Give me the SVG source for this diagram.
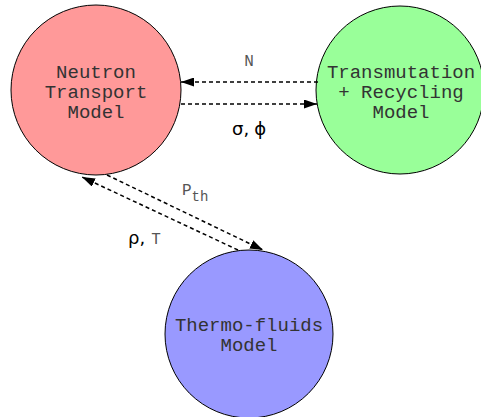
<svg xmlns="http://www.w3.org/2000/svg" width="481" height="417" viewBox="0 0 481 417">
<style>
.node{stroke:#000;stroke-width:1}
.lbl{font-family:"Liberation Mono","Courier New",monospace;font-size:19px;fill:#333;text-anchor:middle}
.edge{stroke:#000;stroke-width:1.5;stroke-dasharray:4,3;fill:none}
.elbl{font-family:"Liberation Mono","Courier New",monospace;font-size:16px;fill:#555}
.sym{font-family:"DejaVu Sans",sans-serif;font-size:18px;fill:#000}
</style>
<defs>
<marker id="ah" viewBox="0 0 13 9" refX="13" refY="4.5" markerWidth="13" markerHeight="9" markerUnits="userSpaceOnUse" orient="auto">
<path d="M0,0 L13,4.5 L0,9 Z" fill="#000"/>
</marker>
</defs>
<g id="neutron">
<circle class="node" cx="96" cy="90" r="85" fill="#FF9999"/>
<text class="lbl" x="96" y="78">Neutron</text>
<text class="lbl" x="96" y="98">Transport</text>
<text class="lbl" x="96" y="118">Model</text>
</g>
<g id="transmutation">
<circle class="node" cx="400" cy="90" r="84" fill="#99FF99"/>
<text class="lbl" x="401" y="78">Transmutation</text>
<text class="lbl" x="401" y="98">+ Recycling</text>
<text class="lbl" x="401" y="118">Model</text>
</g>
<g id="thermo">
<circle class="node" cx="249" cy="334" r="84" fill="#9999FF"/>
<text class="lbl" x="249" y="331">Thermo-fluids</text>
<text class="lbl" x="249" y="351">Model</text>
</g>
<g id="connectors">
<line class="edge" x1="318" y1="82" x2="181" y2="82" marker-end="url(#ah)"/>
<line class="edge" x1="181" y1="104" x2="317" y2="104" marker-end="url(#ah)"/>
<line class="edge" x1="107" y1="175" x2="263" y2="250" marker-end="url(#ah)"/>
<line class="edge" x1="238" y1="250" x2="82" y2="177" marker-end="url(#ah)"/>
<text class="elbl" x="249" y="66" text-anchor="middle">N</text>
<text class="sym" x="232" y="135">σ,<tspan dx="5">ϕ</tspan></text>
<text class="elbl" x="182" y="195">P<tspan font-size="14" dy="6">th</tspan></text>
<text class="sym" x="128" y="244">ρ,<tspan class="elbl" font-size="17" dx="6">T</tspan></text>
</g>
</svg>
